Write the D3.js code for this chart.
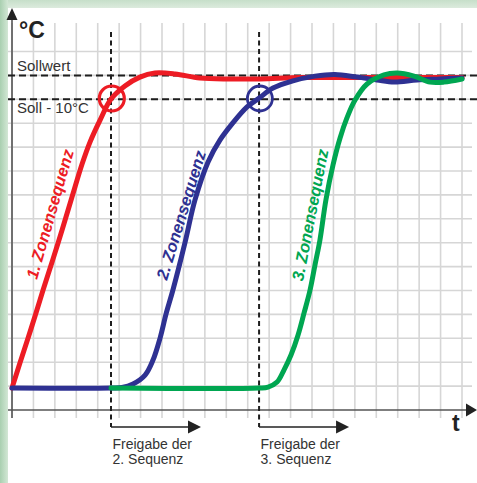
<!DOCTYPE html>
<html><head><meta charset="utf-8">
<script src="https://cdn.jsdelivr.net/npm/d3@7"></script>
<style>
html,body{margin:0;padding:0;background:#fff;}
svg{display:block;font-family:Arial,"Liberation Sans",sans-serif;}
</style></head>
<body>
<svg id="chart" width="477" height="483"></svg>
<script>
// ---- data (time in grid units, temperature in grid units) ----
const xTicks = d3.range(0, 22);      // vertical grid columns
const yTicks = d3.range(0, 16);      // horizontal grid rows
const sollwert = 14;                 // Sollwert level
const soll10 = 13;                   // Soll - 10°C level
const releaseTimes = [4.62, 11.53];  // Freigabe der 2./3. Sequenz
const releaseLabels = [["Freigabe der", "2. Sequenz"], ["Freigabe der", "3. Sequenz"]];
const seriesNames = ["1. Zonensequenz", "2. Zonensequenz", "3. Zonensequenz"];
const seriesColors = ["#ed1c24", "#2e3192", "#00a651"];

const redT = [0,0.37,0.75,1.12,1.45,2.15,2.80,3.27,3.64,4.11,4.62,5.27,5.97,6.67,7.61,8.77,10.17,11.57,13.44,15.77,18.11,21];
const redV = [0.92,1.97,3.01,4.06,5.02,6.99,8.91,10.29,11.21,12.13,13.01,13.56,13.93,14.10,14.06,13.89,13.85,13.85,13.91,13.91,13.91,13.91];

const blueT = [0,4.62,5.13,5.65,6.21,6.58,6.91,7.19,7.51,8.07,8.54,9.15,9.71,10.27,10.97,11.53,12.18,13.11,14.14,15.07,16.10,17.03,17.83,18.90,19.97,21];
const blueV = [0.92,0.92,0.94,1.09,1.46,2.09,3.01,4.02,5.02,6.99,8.79,10.38,11.30,11.97,12.68,13.05,13.47,13.77,13.97,14.04,13.93,13.81,13.72,13.81,13.85,13.89];

const greenT = [4.62,11.53,11.95,12.37,12.69,13.02,13.35,13.63,13.91,14.14,14.37,14.65,14.98,15.31,15.63,16.01,16.57,17.36,17.97,18.76,19.51,20.16,21];
const greenV = [0.92,0.92,0.96,1.17,1.67,2.30,3.14,4.06,5.02,6.07,7.11,8.79,10.25,11.38,12.22,12.97,13.64,14.02,14.10,13.97,13.72,13.72,13.85];

// ---- drawing ----
const svg = d3.select("#chart");
const W = 477, H = 483;
const x = d3.scaleLinear().domain([0, 21]).range([12, 462]);
const y = d3.scaleLinear().domain([0, 16]).range([410, 27.6]);

const defs = svg.append("defs");
const gl = defs.append("linearGradient").attr("id","gl").attr("x1","0").attr("x2","1").attr("y1","0").attr("y2","0");
gl.append("stop").attr("offset","0").attr("stop-color","#a9cfb0");
gl.append("stop").attr("offset","1").attr("stop-color","#d3e7d5");
const gt = defs.append("linearGradient").attr("id","gt").attr("x1","0").attr("x2","0").attr("y1","0").attr("y2","1");
gt.append("stop").attr("offset","0").attr("stop-color","#c6dfc9");
gt.append("stop").attr("offset","1").attr("stop-color","#dcebdd");

// background frame
svg.append("rect").attr("x",0).attr("y",0).attr("width",W).attr("height",8).attr("fill","url(#gt)");
svg.append("rect").attr("x",0).attr("y",0).attr("width",8).attr("height",H).attr("fill","url(#gl)");
svg.append("rect").attr("x",8).attr("y",8).attr("width",W-8).attr("height",H-8).attr("fill","#ffffff");

// grid
const grid = svg.append("g").attr("stroke","#d6d6d6").attr("stroke-width",1.6);
grid.selectAll("line.v").data(xTicks).join("line")
  .attr("x1",d=>x(d)).attr("x2",d=>x(d)).attr("y1",23).attr("y2",418);
grid.selectAll("line.h").data(yTicks.filter(d=>d>0)).join("line")
  .attr("x1",8).attr("x2",472).attr("y1",d=>y(d)).attr("y2",d=>y(d));

// axes
const axisCol = "#555";
svg.append("line").attr("x1",x(0)).attr("x2",x(0)).attr("y1",18).attr("y2",418)
  .attr("stroke",axisCol).attr("stroke-width",1.6);
svg.append("path").attr("d",`M${x(0)},8 L${x(0)-5.5},20 L${x(0)+5.5},20 Z`).attr("fill","#222");
svg.append("line").attr("x1",8).attr("x2",468).attr("y1",y(0)).attr("y2",y(0))
  .attr("stroke",axisCol).attr("stroke-width",1.6);
svg.append("path").attr("d",`M477,${y(0)} L466,${y(0)-6.5} L466,${y(0)+6.5} Z`).attr("fill","#222");

svg.append("text").attr("x",19).attr("y",37.5).attr("font-size",23).attr("font-weight","bold")
  .attr("fill","#222").text("°C");
svg.append("text").attr("x",452).attr("y",431).attr("font-size",23).attr("font-weight","bold")
  .attr("fill","#222").text("t");

// level dashed lines
const dashCol = "#1e1e1e";
[sollwert, soll10].forEach(v=>{
  svg.append("line").attr("x1",8).attr("x2",W).attr("y1",y(v)).attr("y2",y(v))
    .attr("stroke",dashCol).attr("stroke-width",2).attr("stroke-dasharray","7,4");
});
svg.append("text").attr("x",17).attr("y",71).attr("font-size",15).attr("fill","#333").text("Sollwert");
svg.append("text").attr("x",17).attr("y",113).attr("font-size",15).attr("fill","#333").text("Soll - 10°C");

// release lines, arrows and labels
releaseTimes.forEach((t,i)=>{
  const px = x(t);
  svg.append("line").attr("x1",px).attr("x2",px).attr("y1",32).attr("y2",427)
    .attr("stroke",dashCol).attr("stroke-width",2).attr("stroke-dasharray","5,3.5");
  const ax = px + 90;
  svg.append("line").attr("x1",px).attr("x2",ax-12).attr("y1",427).attr("y2",427)
    .attr("stroke","#222").attr("stroke-width",1.5);
  svg.append("path").attr("d",`M${ax},427 L${ax-13},420.5 L${ax-13},433.5 Z`).attr("fill","#222");
  releaseLabels[i].forEach((s,j)=>{
    svg.append("text").attr("x",px+1.5).attr("y",449+15*j).attr("font-size",14)
      .attr("fill","#333").text(s);
  });
});

// curves
const line = d3.line().x(d=>x(d[0])).y(d=>y(d[1])).curve(d3.curveCatmullRom.alpha(0.5));
const series = [d3.zip(redT, redV), d3.zip(blueT, blueV), d3.zip(greenT, greenV)];
series.forEach((s,i)=>{
  svg.append("path").datum(s).attr("d",line).attr("fill","none")
    .attr("stroke",seriesColors[i]).attr("stroke-width",5)
    .attr("stroke-linecap","round").attr("stroke-linejoin","round");
});

// circles at release / Soll-10 intersections
releaseTimes.forEach((t,i)=>{
  svg.append("circle").attr("cx",x(t)+0.8).attr("cy",y(soll10)-0.8).attr("r",12.5)
    .attr("fill","none").attr("stroke",seriesColors[i]).attr("stroke-width",i===0?3.2:2.8);
});

// series labels (rotated along curves)
const labelPos = [[1.77, 8.2, -74], [7.89, 8.16, -73], [13.91, 8.16, -79]];
labelPos.forEach((p,i)=>{
  svg.append("text")
    .attr("transform",`translate(${x(p[0])},${y(p[1])}) rotate(${p[2]})`)
    .attr("text-anchor","middle").attr("dy","0.35em")
    .attr("font-size",16.5).attr("font-weight","bold").attr("font-style","italic")
    .attr("fill",seriesColors[i]).text(seriesNames[i]);
});
</script>
</body></html>
